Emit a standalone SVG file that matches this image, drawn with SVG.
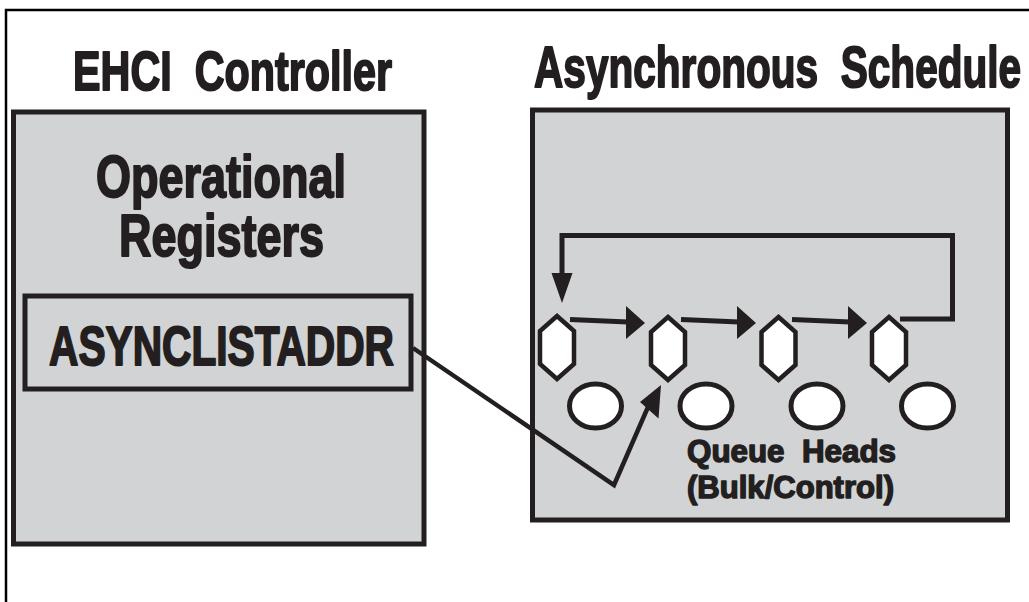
<svg xmlns="http://www.w3.org/2000/svg" width="1029" height="602" viewBox="0 0 1029 602">
<defs>
<style>
.box{fill:#d1d3d4;stroke:#231f20;stroke-width:5}
.t{font-family:"Liberation Sans",Arial,sans-serif;font-weight:bold;fill:#231f20;stroke:#231f20;stroke-width:2;stroke-linejoin:round}
.s{stroke-width:1.4}
.hex{fill:#fff;stroke:#231f20;stroke-width:4.5;stroke-linejoin:miter}
.ell{fill:#fff;stroke:#231f20;stroke-width:5}
.ln{fill:none;stroke:#231f20;stroke-width:5}
.ah{fill:#231f20}
</style>
</defs>
<rect width="1029" height="602" fill="#fff"/>
<path d="M6 602 V10 H1029" fill="none" stroke="#000" stroke-width="2.5"/>

<g id="ehci-title">
<text class="t" x="73" y="90" font-size="56" textLength="319" lengthAdjust="spacingAndGlyphs" xml:space="preserve">EHCI  Controller</text>
</g>
<g id="async-title">
<text class="t" transform="translate(534,86.5) scale(0.7,1)" x="0" y="0" font-size="58" xml:space="preserve">Asynchronous  Schedule</text>
</g>

<g id="ehci-controller">
<rect class="box" x="13.5" y="112" width="410.5" height="432"/>
<text class="t" x="96" y="197" font-size="59" textLength="250" lengthAdjust="spacingAndGlyphs">Operational</text>
<text class="t" x="119" y="256" font-size="60" textLength="205" lengthAdjust="spacingAndGlyphs">Registers</text>
</g>

<g id="asynclistaddr">
<rect class="box" x="25" y="296" width="386" height="93"/>
<text class="t" x="49" y="365" font-size="56" textLength="345" lengthAdjust="spacingAndGlyphs">ASYNCLISTADDR</text>
</g>

<g id="async-schedule">
<rect class="box" x="532.5" y="110" width="475" height="410"/>
</g>

<g id="qh1">
<polygon class="hex" points="557,316 574,331 574,364 557,379 540,364 540,331"/>
<ellipse class="ell" cx="595.5" cy="406" rx="26" ry="22"/>
</g>
<g id="qh2">
<polygon class="hex" points="668,317 685,332 685,365 668,380 651,365 651,332"/>
<ellipse class="ell" cx="706" cy="406" rx="26" ry="22"/>
</g>
<g id="qh3">
<polygon class="hex" points="778.5,317 795.5,332 795.5,365 778.5,380 761.5,365 761.5,332"/>
<ellipse class="ell" cx="817" cy="406" rx="26" ry="22"/>
</g>
<g id="qh4">
<polygon class="hex" points="889,317 906,332 906,365 889,380 872,365 872,332"/>
<ellipse class="ell" cx="927.5" cy="406" rx="26" ry="22"/>
</g>

<g id="queue-heads-label">
<text class="t s" x="687" y="462" font-size="30.5" textLength="209" lengthAdjust="spacingAndGlyphs" xml:space="preserve">Queue  Heads</text>
<text class="t s" x="687" y="498" font-size="30.5" textLength="207" lengthAdjust="spacingAndGlyphs">(Bulk/Control)</text>
</g>

<g id="connectors">
<line class="ln" x1="570" y1="319.5" x2="628" y2="322"/>
<polygon class="ah" points="645,323 626,306 626,339"/>
<line class="ln" x1="681" y1="319.5" x2="739" y2="322"/>
<polygon class="ah" points="756,323 737,306 737,339"/>
<line class="ln" x1="792" y1="319.5" x2="850" y2="322"/>
<polygon class="ah" points="867,323 848,306 848,339"/>
<path class="ln" d="M900 319 H952.5 V235.5 H562 V276"/>
<polygon class="ah" points="562,303 551.5,273 572.5,273"/>
<path d="M413 348 L614 485 L648 407" fill="none" stroke="#231f20" stroke-width="4.5" stroke-linejoin="miter"/>
<polygon class="ah" points="661,385 640,402 658.5,418.5"/>
</g>
</svg>
